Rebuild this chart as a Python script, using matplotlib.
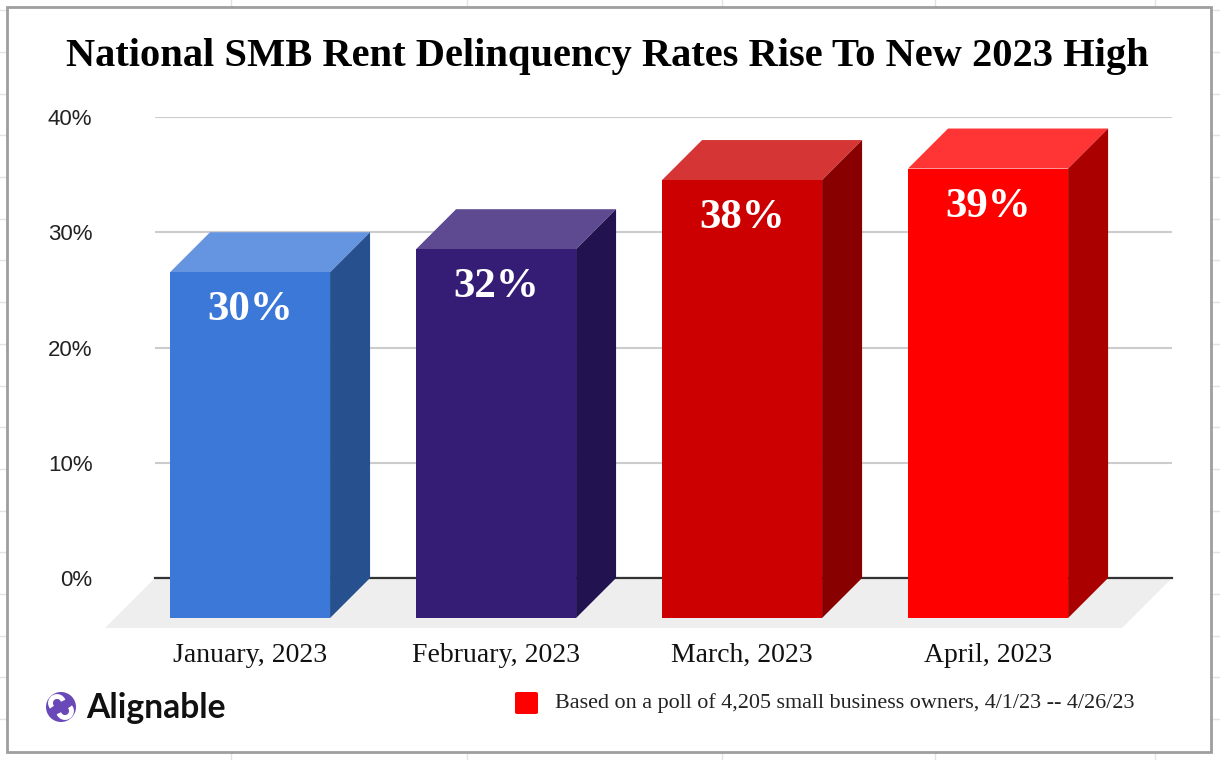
import matplotlib
matplotlib.use("Agg")
import matplotlib.pyplot as plt
from matplotlib.patches import Polygon, Rectangle, Circle, FancyBboxPatch, Arc
from matplotlib.lines import Line2D
import numpy as np

months = ["January, 2023", "February, 2023", "March, 2023", "April, 2023"]
rates = [30, 32, 38, 39]
value_labels = ["30%", "32%", "38%", "39%"]
y_ticks = [0, 10, 20, 30, 40]
y_tick_labels = ["0%", "10%", "20%", "30%", "40%"]
title = "National SMB Rent Delinquency Rates Rise To New 2023 High"
note = "Based on a poll of 4,205 small business owners, 4/1/23 -- 4/26/23"

# front / top / side colours per bar
front_colors = ["#3c78d8", "#351c75", "#cc0000", "#ff0000"]
top_colors = ["#6594e0", "#5e4a91", "#d63535", "#ff3535"]
side_colors = ["#27508e", "#221350", "#880000", "#aa0000"]

W, H = 1220, 760
fig = plt.figure(figsize=(W / 100, H / 100), dpi=100)
fig.patch.set_facecolor("white")
renderer = fig.canvas.get_renderer()


def px(x, y):
    # pixel (from top-left) -> figure fraction
    return x / W, 1 - y / H


def fit(t, target):
    w = t.get_window_extent(renderer).width
    t.set_fontsize(t.get_fontsize() * target / w)


# spreadsheet cells behind the chart box
for yy in np.arange(10.2, H, 41.7):
    fig.add_artist(Line2D([0, 1], [1 - yy / H] * 2, color="#e3e3e3", lw=1, zorder=-3))
for xx in [231, 467, 722, 935, 1155]:
    fig.add_artist(Line2D([xx / W] * 2, [0, 1], color="#e3e3e3", lw=1, zorder=-3))
fig.add_artist(Rectangle(px(7, 752), 1204 / W, 745 / H, transform=fig.transFigure,
                         facecolor="white", edgecolor="#9e9e9e", lw=2, zorder=-2))

# axes = back plane of the 3D box
left, right, base, top = 155, 1172, 578, 117
ax = fig.add_axes([left / W, (H - base) / H, (right - left) / W, (base - top) / H])
ax.set_facecolor("none")
xmin, xmax = -0.549, 3.585
ax.set_xlim(xmin, xmax)
ax.set_ylim(0, 40)
for s in ax.spines.values():
    s.set_visible(False)
ax.set_xticks([])
ax.set_yticks(y_ticks)
ax.set_yticklabels(y_tick_labels, fontsize=16, family="Liberation Sans", color="#222222")
ax.tick_params(axis="y", length=0, pad=45)
ax.yaxis.grid(True, color="#cccccc", lw=1.5, zorder=1)
ax.set_axisbelow(True)

ux = (xmax - xmin) / (right - left)
uy = 40 / (base - top)
dx, dy = 40 * ux, 40 * uy        # bar depth
fdx, fdy = 50 * ux, 50 * uy      # floor depth
half = 80 / 246

# floor
ax.add_patch(Polygon([(xmin, 0), (xmax, 0), (xmax - fdx, -fdy), (xmin - fdx, -fdy)],
                     closed=True, facecolor="#eeeeee", edgecolor="none", zorder=0.8, clip_on=False))
ax.axhline(0, color="#333333", lw=1.6, zorder=1.5, clip_on=False)

x = np.arange(len(rates))
vlabels = []
for i, v in enumerate(rates):
    L, R = x[i] - half, x[i] + half
    ax.add_patch(Polygon([(L - dx, v - dy), (R - dx, v - dy), (R, v), (L, v)], closed=True,
                         facecolor=top_colors[i], edgecolor="none", zorder=3, clip_on=False))
    ax.add_patch(Polygon([(R - dx, -dy), (R, 0), (R, v), (R - dx, v - dy)], closed=True,
                         facecolor=side_colors[i], edgecolor="none", zorder=3, clip_on=False))
    ax.add_patch(Rectangle((L - dx, -dy), R - L, v, facecolor=front_colors[i],
                           edgecolor="none", zorder=3.5, clip_on=False))
    vlabels.append(ax.text(x[i] - dx, v - dy - 38 * uy, value_labels[i], ha="center", va="center",
                           color="white", family="Liberation Serif", weight="bold", fontsize=30,
                           zorder=5, clip_on=False))
w0 = vlabels[0].get_window_extent(renderer).width
for t in vlabels:
    t.set_fontsize(t.get_fontsize() * 86 / w0)

# category labels under the front faces
xl = []
for i, m in enumerate(months):
    xl.append(ax.text(x[i] - dx, -(655 - base) * uy, m, ha="center", va="center",
                      family="Liberation Serif", fontsize=18, color="#111111", clip_on=False))
w0 = xl[0].get_window_extent(renderer).width
for t in xl:
    t.set_fontsize(t.get_fontsize() * 154 / w0)

# title
tt = fig.text(*px(607, 66), title, ha="center", va="baseline", family="Liberation Serif",
              weight="bold", fontsize=26, color="black")
fit(tt, 1085)

# note with red key
fig.add_artist(FancyBboxPatch(px(515, 714), 23 / W, 22 / H, boxstyle="round,pad=0,rounding_size=0.002",
                              transform=fig.transFigure, facecolor="#ff0000", edgecolor="none"))
nt = fig.text(*px(555, 703), note, ha="left", va="center", family="Liberation Serif",
              fontsize=14, color="#222222")
fit(nt, 583)

# Alignable logo
fig.add_artist(Circle((61, H - 707), 15, transform=None, facecolor="#6b48b8", edgecolor="none"))
fig.add_artist(Arc((57, H - 703), 13, 13, theta1=20, theta2=220, transform=None,
                   color="white", lw=3.5))
fig.add_artist(Arc((65, H - 711), 13, 13, theta1=200, theta2=400, transform=None,
                   color="white", lw=3.5))
lt = fig.text(*px(86, 718), "Alignable", ha="left", va="baseline", family="Lato",
              weight="bold", fontsize=22, color="#111111")
fit(lt, 139)

fig.savefig("out.png", dpi=100, facecolor="white")
